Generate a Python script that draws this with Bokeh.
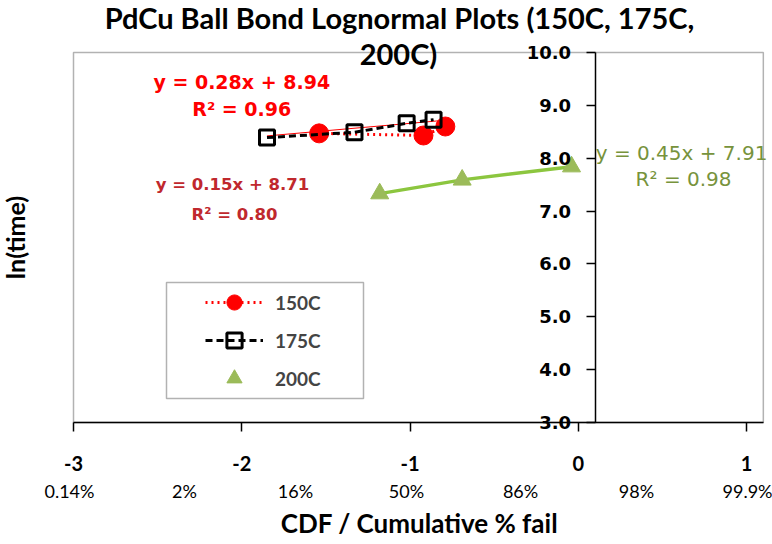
import math
from bokeh.plotting import figure
from bokeh.models import (Label, BoxAnnotation, Legend, LegendItem, FixedTicker,
                          NumeralTickFormatter, Range1d, LinearAxis)
from bokeh.embed import file_html
from bokeh.resources import INLINE

# ---- data ----
x_ticks = [-3, -2, -1, 0, 1]
x_tick_labels = ["-3", "-2", "-1", "0", "1"]
y_ticks = [3, 4, 5, 6, 7, 8, 9, 10]
pct_labels = ["0.14%", "2%", "16%", "50%", "86%", "98%", "99.9%"]

cdf_150 = [-1.54, -0.92, -0.79]
ln_150 = [8.47, 8.43, 8.60]

cdf_175 = [-1.85, -1.33, -1.02, -0.86]
ln_175 = [8.39, 8.49, 8.66, 8.73]

cdf_200 = [-1.18, -0.69, -0.04]
ln_200 = [7.33, 7.59, 7.84]

fit_175 = (0.28, 8.94, 0.96)
fit_150 = (0.15, 8.71, 0.80)
fit_200 = (0.45, 7.91, 0.98)

# ---- layout (pixels) ----
W, H = 772, 544
X0_PX, XPU = 73, 168.25      # x=-3 at 73 px, px per unit
Y0_PX, YPU = 422, 52.857     # y=3 at 422 px, px per unit

p = figure(width=W, height=H,
           x_range=Range1d(-3 - X0_PX / XPU, -3 + (W - X0_PX) / XPU),
           y_range=Range1d(3 - (H - Y0_PX) / YPU, 3 + Y0_PX / YPU),
           output_backend="svg", toolbar_location=None,
           min_border_left=0, min_border_right=0, min_border_top=0, min_border_bottom=0)
p.outline_line_alpha = 0
p.xgrid.visible = False
p.ygrid.visible = False
p.background_fill_color = "white"
p.border_fill_color = "white"

# plot-area box
p.add_layout(BoxAnnotation(left=-3, right=1.1, bottom=3, top=10,
                           fill_alpha=0, line_color="black", line_width=1.5))

xa = p.xaxis[0]
xa.fixed_location = 3
xa.bounds = (-3, 1.1)
xa.ticker = FixedTicker(ticks=x_ticks)
xa.major_label_overrides = {v: t for v, t in zip(x_ticks, x_tick_labels)}
xa.major_label_text_font = "Lato"
xa.major_label_text_font_style = "bold"
xa.major_label_text_font_size = "20px"
xa.major_label_text_color = "black"
xa.major_tick_out = 9
xa.major_tick_in = 0
xa.minor_tick_out = 0
xa.minor_tick_in = 0
xa.axis_line_width = 1.5
xa.major_tick_line_width = 1.5
xa.major_label_standoff = 24

# second row of x labels (percentiles)
pct_pos = [-3.024, -2.340, -1.681, -1.021, -0.343, 0.346, 1.006]
xa2 = LinearAxis(fixed_location=3, ticker=FixedTicker(ticks=pct_pos),
                 major_label_overrides={v: t for v, t in zip(pct_pos, pct_labels)},
                 axis_line_alpha=0, major_tick_line_alpha=0, minor_tick_line_alpha=0,
                 major_tick_out=0, major_tick_in=0, minor_tick_out=0, minor_tick_in=0,
                 major_label_standoff=57,
                 major_label_text_font="Lato", major_label_text_font_style="normal",
                 major_label_text_font_size="18px", major_label_text_color="black")
p.add_layout(xa2, "below")

ya = p.yaxis[0]
ya.fixed_location = 0.1
ya.bounds = (3, 10)
ya.ticker = FixedTicker(ticks=y_ticks)
ya.formatter = NumeralTickFormatter(format="0.0")
ya.major_label_text_font = "DejaVu Sans"
ya.major_label_text_font_style = "bold"
ya.major_label_text_font_size = "18px"
ya.major_label_text_color = "black"
ya.major_tick_out = 9
ya.major_tick_in = 0
ya.minor_tick_out = 0
ya.minor_tick_in = 0
ya.axis_line_width = 1.5
ya.major_tick_line_width = 1.5
ya.major_label_standoff = 15

# ---- series ----
trend_x = [min(cdf_175), max(cdf_150)]
p.line(trend_x, [fit_175[0] * v + fit_175[1] for v in trend_x],
       line_color="red", line_width=1)

p.line(cdf_200, ln_200, line_color="#8CC63F", line_width=3.5)
g200 = p.scatter(cdf_200, ln_200, marker="triangle", size=18,
                 fill_color="#9BBB59", line_color="#9BBB59")

r150_line = p.line(cdf_150, ln_150, line_color="red", line_width=3, line_dash="2 4")
r150 = p.scatter(cdf_150, ln_150, marker="circle", size=19,
                 fill_color="red", line_color="red")

b175_line = p.line(cdf_175, ln_175, line_color="black", line_width=3, line_dash="7 4")
b175 = p.scatter(cdf_175, ln_175, marker="square", size=15,
                 fill_alpha=0, line_color="black", line_width=3)

# ---- legend (screen units measured from the canvas bottom-left) ----
p.add_layout(BoxAnnotation(left=166, right=363, bottom=H - 398, top=H - 282,
                           left_units="screen", right_units="screen",
                           bottom_units="screen", top_units="screen",
                           fill_color="white", fill_alpha=1, line_color="black",
                           line_width=1.5))
legend = Legend(items=[LegendItem(label="150C", renderers=[r150_line, r150]),
                       LegendItem(label="175C", renderers=[b175_line, b175]),
                       LegendItem(label="200C", renderers=[g200])],
                location=(205, H - 397), padding=0, margin=0,
                border_line_alpha=0, background_fill_alpha=0,
                glyph_width=58, glyph_height=38, spacing=0, label_standoff=12,
                label_text_font="Lato", label_text_font_style="bold",
                label_text_font_size="19px", label_height=38)
p.add_layout(legend)

# ---- texts ----
def add_label(x, y, text, color, size, font="DejaVu Sans", style="bold", units="data",
              angle=0.0, align="center"):
    p.add_layout(Label(x=x, y=y, x_units=units, y_units=units, text=text,
                       text_color=color, text_font=font, text_font_style=style,
                       text_font_size=size, text_align=align, text_baseline="middle",
                       angle=angle))

def eq(fit):
    return "y = %.2fx + %.2f" % (fit[0], fit[1]), "R² = %.2f" % fit[2]

e1, r1 = eq(fit_175)
add_label(-2.0, 9.45, e1, "red", "19px")
add_label(-2.0, 8.94, r1, "red", "19px")
e2, r2 = eq(fit_150)
add_label(-2.055, 7.50, e2, "#C0282D", "16.5px")
add_label(-2.043, 6.935, r2, "#C0282D", "16.5px")
e3, r3 = eq(fit_200)
add_label(0.614, 8.108, e3, "#77933C", "20px", style="normal")
add_label(0.626, 7.616, r3, "#77933C", "20px", style="normal")

# titles (screen units from the canvas bottom-left)
add_label(399, H - 17, "PdCu Ball Bond Lognormal Plots (150C, 175C,", "black", "29px",
          font="Lato", units="screen")
add_label(398, H - 53, "200C)", "black", "29px", font="Lato", units="screen")
add_label(14, H - 237, "ln(time)", "black", "25px", font="Lato", units="screen",
          angle=math.pi / 2)
add_label(419, H - 522, "CDF / Cumulative % fail", "black", "26px", font="Lato",
          units="screen")

open("out.html", "w").write(file_html(p, INLINE))
